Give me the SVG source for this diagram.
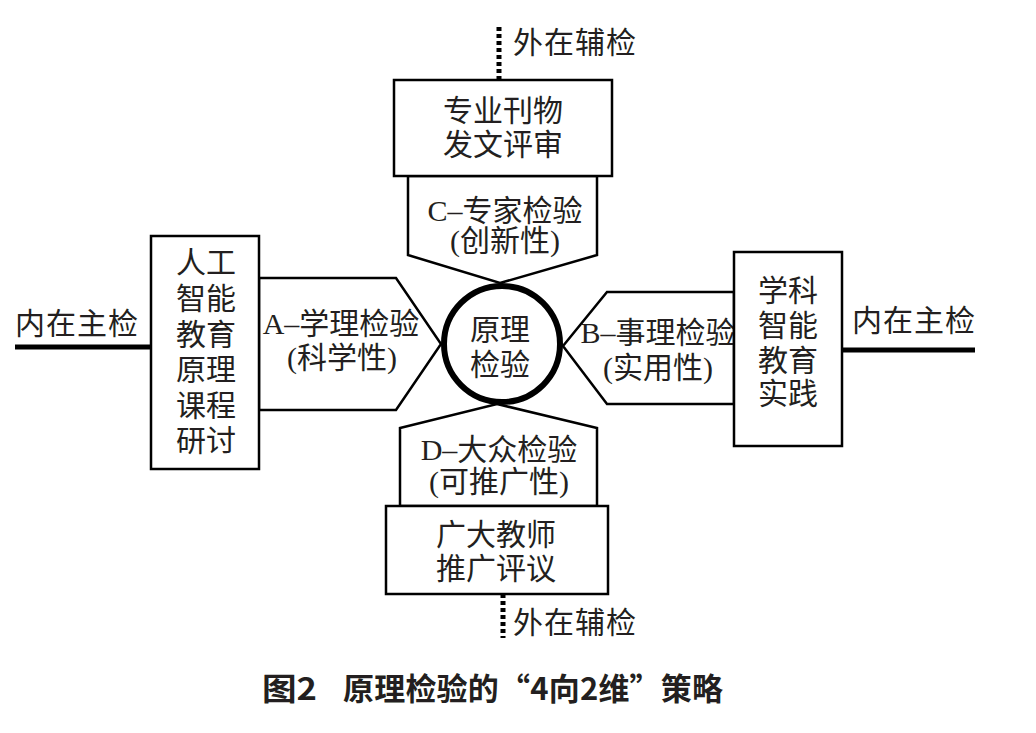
<svg xmlns="http://www.w3.org/2000/svg" width="1036" height="733" viewBox="0 0 1036 733">
<style>
.box{fill:#fff;stroke:#000;stroke-width:2.5}
.pent{fill:#fff;stroke:#000;stroke-width:2.5;stroke-linejoin:miter}
.t{font-family:"Liberation Serif","Noto Sans CJK SC",serif;font-size:30px;fill:#231f20;text-anchor:middle}
.tl{font-family:"Liberation Serif","Noto Sans CJK SC",serif;font-size:30px;fill:#231f20;text-anchor:start;letter-spacing:1px}
.main{stroke:#000;stroke-width:5;fill:none}
.dot{stroke:#000;stroke-width:5;stroke-dasharray:4 3;fill:none}
.cap{font-family:"Noto Sans CJK SC","Noto Sans",sans-serif;font-size:31px;font-weight:bold;fill:#231f20}
</style>
<rect width="1036" height="733" fill="#fff"/>
<g id="connectors">
<line class="dot" x1="499" y1="27" x2="499" y2="80"/>
<line class="dot" x1="503" y1="594" x2="503" y2="638"/>
<line class="main" x1="15" y1="347" x2="152" y2="347"/>
<line class="main" x1="842" y1="350" x2="975" y2="350"/>
</g>
<g id="label-top-ext"><text class="tl" x="513" y="53">外在辅检</text></g>
<g id="label-bottom-ext"><text class="tl" x="513" y="633">外在辅检</text></g>
<g id="label-left-int"><text class="tl" x="15" y="334">内在主检</text></g>
<g id="label-right-int"><text class="tl" x="852" y="331">内在主检</text></g>
<g id="node-C">
<polygon class="pent" points="408,176 408,255 500,283 597,255 597,176"/>
<text class="t" x="505" y="221">C–专家检验</text>
<text class="t" x="505" y="251">(创新性)</text>
</g>
<g id="node-top">
<rect class="box" x="394" y="80" width="218" height="96"/>
<text class="t" x="503" y="121">专业刊物</text>
<text class="t" x="503" y="155">发文评审</text>
</g>
<g id="node-A">
<polygon class="pent" points="259,278 396,278 441,344 396,410 259,410"/>
<text class="t" x="341" y="334">A–学理检验</text>
<text class="t" x="342" y="368">(科学性)</text>
</g>
<g id="node-left">
<rect class="box" x="151" y="236" width="108" height="233"/>
<text class="t" x="206" y="273">人工</text>
<text class="t" x="206" y="309">智能</text>
<text class="t" x="206" y="345">教育</text>
<text class="t" x="206" y="380">原理</text>
<text class="t" x="206" y="416">课程</text>
<text class="t" x="206" y="451">研讨</text>
</g>
<g id="node-B">
<polygon class="pent" points="734,292 607,292 563,346 607,404 734,404"/>
<text class="t" x="658" y="343">B–事理检验</text>
<text class="t" x="658" y="378">(实用性)</text>
</g>
<g id="node-right">
<rect class="box" x="734" y="252" width="108" height="194"/>
<text class="t" x="788" y="301">学科</text>
<text class="t" x="788" y="336">智能</text>
<text class="t" x="788" y="371">教育</text>
<text class="t" x="788" y="404">实践</text>
</g>
<g id="node-D">
<polygon class="pent" points="400,506 400,428 497,404 597,428 597,506"/>
<text class="t" x="499" y="460">D–大众检验</text>
<text class="t" x="499" y="492">(可推广性)</text>
</g>
<g id="node-bottom">
<rect class="box" x="386" y="506" width="222" height="88"/>
<text class="t" x="496" y="545">广大教师</text>
<text class="t" x="496" y="579">推广评议</text>
</g>
<g id="node-center">
<circle cx="502" cy="344" r="58" fill="#fff" stroke="#000" stroke-width="6"/>
<text class="t" x="500" y="340">原理</text>
<text class="t" x="500" y="375">检验</text>
</g>
<g id="caption">
<text class="cap" x="262" y="700" textLength="55" lengthAdjust="spacingAndGlyphs">图2</text>
<text class="cap" x="343" y="700" textLength="380" lengthAdjust="spacing">原理检验的“4向2维”策略</text>
</g>
</svg>
